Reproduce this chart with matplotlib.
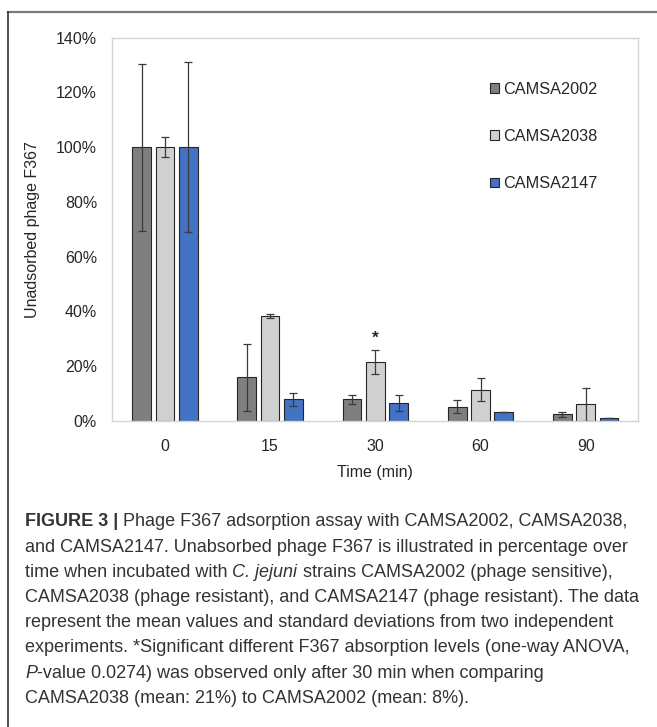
import numpy as np
import matplotlib
matplotlib.use("Agg")
import matplotlib.pyplot as plt
from matplotlib.lines import Line2D

plt.rcParams['font.family'] = ['Liberation Sans', 'DejaVu Sans']

# data (percent unadsorbed phage)
times = ['0', '15', '30', '60', '90']
strains = ['CAMSA2002', 'CAMSA2038', 'CAMSA2147']
camsa2002 = [100, 15.8, 7.8, 5.1, 2.3]
camsa2002_sd = [30.5, 12.3, 1.6, 2.4, 0.9]
camsa2038 = [100, 38.4, 21.4, 11.4, 6.0]
camsa2038_sd = [3.6, 0.7, 4.3, 4.3, 6.0]
camsa2147 = [100, 7.9, 6.5, 3.1, 1.1]
camsa2147_sd = [31.0, 2.4, 2.8, 0, 0]
colors = ['#7f7f7f', '#d0d0d0', '#4472c4']
signif_idx = 2  # the * above CAMSA2038 at 30 min

caption = [
    [("FIGURE 3 |", 'bold', 'normal'), (" Phage F367 adsorption assay with CAMSA2002, CAMSA2038,", 'normal', 'normal')],
    [("and CAMSA2147. Unabsorbed phage F367 is illustrated in percentage over", 'normal', 'normal')],
    [("time when incubated with ", 'normal', 'normal'), ("C. jejuni", 'normal', 'italic'),
     (" strains CAMSA2002 (phage sensitive),", 'normal', 'normal')],
    [("CAMSA2038 (phage resistant), and CAMSA2147 (phage resistant). The data", 'normal', 'normal')],
    [("represent the mean values and standard deviations from two independent", 'normal', 'normal')],
    [("experiments. *Significant different F367 absorption levels (one-way ANOVA,", 'normal', 'normal')],
    [("P", 'normal', 'italic'), ("-value 0.0274) was observed only after 30 min when comparing", 'normal', 'normal')],
    [("CAMSA2038 (mean: 21%) to CAMSA2002 (mean: 8%).", 'normal', 'normal')],
]

W, H = 657, 727
fig = plt.figure(figsize=(W / 100, H / 100), dpi=100)

# background axes for the frame lines and the caption
cax = fig.add_axes([0, 0, 1, 1])
cax.set_xlim(0, W)
cax.set_ylim(H, 0)
cax.axis('off')
cax.add_line(Line2D([8, W], [12, 12], color='#7a7a7a', lw=1.6))
cax.add_line(Line2D([8, 8], [12, H], color='#333333', lw=1.2))

ax = fig.add_axes([112.3 / W, 1 - 420.7 / H, 526 / W, 383 / H])

x = np.arange(len(times))
step = 0.222
width = 0.178
series = [(camsa2002, camsa2002_sd), (camsa2038, camsa2038_sd), (camsa2147, camsa2147_sd)]
for i, (vals, sd) in enumerate(series):
    ax.bar(x + (i - 1) * step, vals, width, yerr=sd, color=colors[i], edgecolor='#262626',
           linewidth=0.8, label=strains[i], zorder=2,
           error_kw=dict(ecolor='#3a3a3a', elinewidth=0.9, capsize=3, capthick=0.9))

star_y = camsa2038[signif_idx] + camsa2038_sd[signif_idx] + 4.6
ax.text(x[signif_idx], star_y, '*', ha='center', va='center', fontsize=12.5, fontweight='bold',
        color='#262626')

ax.set_xlim(-0.5, len(times) - 0.5)
ax.set_ylim(0, 140)
ax.set_yticks(np.arange(0, 141, 20))
ax.set_yticklabels([f'{v}%' for v in range(0, 141, 20)])
ax.set_xticks(x)
ax.set_xticklabels(times)
ax.tick_params(axis='both', length=0, labelsize=11.5, colors='#262626')
ax.tick_params(axis='y', pad=11)
ax.tick_params(axis='x', pad=13)
for s in ax.spines.values():
    s.set_color('#d4d4d4')
    s.set_linewidth(1.0)

ax.set_ylabel('Unadsorbed phage F367', fontsize=11.5, color='#262626', va='center')
ax.yaxis.set_label_coords(-0.151, 0.5)
ax.set_xlabel('Time (min)', fontsize=11.5, color='#262626', va='center')
ax.xaxis.set_label_coords(0.5, -0.134)

leg = ax.legend(loc='upper left', bbox_to_anchor=(0.718, 0.884), frameon=False, fontsize=11.7,
                handlelength=0.55, handleheight=0.55, handletextpad=0.25, labelspacing=1.97,
                borderpad=0, borderaxespad=0)
for t in leg.get_texts():
    t.set_color('#262626')

# caption, one line at a time, pieces chained left to right
y0 = 522
dy = 25.2
for k, pieces in enumerate(caption):
    prev = None
    for s, weight, style in pieces:
        kw = dict(fontsize=12.95, fontweight=weight, fontstyle=style, color='#333333', va='center')
        if prev is None:
            prev = cax.text(25, y0 + k * dy, s, ha='left', **kw)
        else:
            prev = cax.annotate(s, xy=(1, 0.5), xycoords=prev, ha='left', **kw)

fig.savefig('out.png', dpi=100)
